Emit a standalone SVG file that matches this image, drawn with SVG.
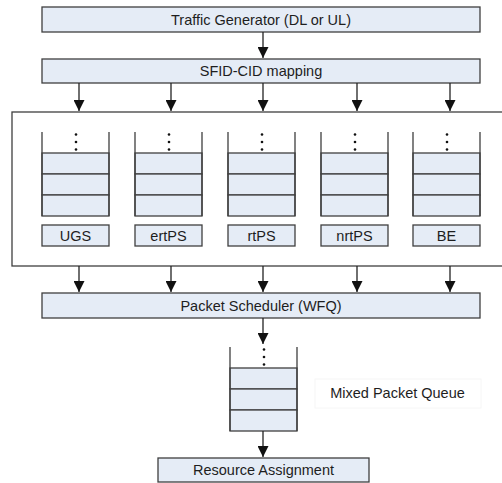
<svg xmlns="http://www.w3.org/2000/svg" width="502" height="483" viewBox="0 0 502 483">
<style>
.box{fill:#e5ecf6;stroke:#3f3f3f;stroke-width:1.3}
.wall{fill:none;stroke:#3f3f3f;stroke-width:1.3}
.t{font-family:"Liberation Sans",Arial,sans-serif;font-size:14.5px;fill:#1e1e1e;text-anchor:middle}
.c{stroke:#222;stroke-width:1.3;fill:none;marker-end:url(#ah)}
.dot{fill:#111}
</style>
<defs>
<marker id="ah" markerWidth="11" markerHeight="11" viewBox="0 0 10 10" refX="10" refY="5" orient="auto" markerUnits="userSpaceOnUse">
<path d="M0,0 L10,5 L0,10 z" fill="#111"/>
</marker>
<g id="queue">
<rect class="box" x="0" y="21" width="67" height="21"/>
<rect class="box" x="0" y="42" width="67" height="21"/>
<rect class="box" x="0" y="63" width="67" height="21"/>
<path class="wall" d="M0,0 V84 M67,0 V84"/>
<circle class="dot" cx="34" cy="2.5" r="1.3"/>
<circle class="dot" cx="34" cy="10" r="1.3"/>
<circle class="dot" cx="34" cy="17.5" r="1.3"/>
</g>
</defs>
<rect id="container" x="12" y="112" width="500" height="154" fill="#fff" stroke="#3f3f3f" stroke-width="1.3"/>
<g id="traffic"><rect class="box" x="42" y="7" width="438" height="25"/><text class="t" x="261" y="25">Traffic Generator (DL or UL)</text></g>
<g id="sfid"><rect class="box" x="42" y="59" width="438" height="24"/><text class="t" x="261" y="76">SFID-CID mapping</text></g>
<g id="q-ugs"><use href="#queue" x="42" y="132"/><rect class="box" x="42" y="225" width="67" height="21"/><text class="t" x="75.5" y="240.5">UGS</text></g>
<g id="q-ertps"><use href="#queue" x="135" y="132"/><rect class="box" x="135" y="225" width="67" height="21"/><text class="t" x="168.5" y="240.5">ertPS</text></g>
<g id="q-rtps"><use href="#queue" x="228" y="132"/><rect class="box" x="228" y="225" width="67" height="21"/><text class="t" x="261.5" y="240.5">rtPS</text></g>
<g id="q-nrtps"><use href="#queue" x="321" y="132"/><rect class="box" x="321" y="225" width="67" height="21"/><text class="t" x="354.5" y="240.5">nrtPS</text></g>
<g id="q-be"><use href="#queue" x="413" y="132"/><rect class="box" x="413" y="225" width="67" height="21"/><text class="t" x="446.5" y="240.5">BE</text></g>
<g id="scheduler"><rect class="box" x="42" y="293" width="438" height="25"/><text class="t" x="261" y="310.5">Packet Scheduler (WFQ)</text></g>
<g id="mixed"><use href="#queue" x="230" y="347"/></g>
<g id="mixed-label"><rect x="315" y="379" width="166" height="29" fill="#fff" stroke="#f6f6f6" stroke-width="1"/><text class="t" x="397.5" y="398">Mixed Packet Queue</text></g>
<g id="resource"><rect class="box" x="158" y="458" width="211" height="24"/><text class="t" x="263.5" y="475">Resource Assignment</text></g>
<g id="connectors">
<path class="c" d="M263,32 V58"/>
<path class="c" d="M79,83 V111"/>
<path class="c" d="M171,83 V111"/>
<path class="c" d="M263,83 V111"/>
<path class="c" d="M357,83 V111"/>
<path class="c" d="M450,83 V111"/>
<path class="c" d="M79,266 V292"/>
<path class="c" d="M171,266 V292"/>
<path class="c" d="M263,266 V292"/>
<path class="c" d="M357,266 V292"/>
<path class="c" d="M450,266 V292"/>
<path class="c" d="M263,318 V344"/>
<path class="c" d="M263,431 V457"/>
</g>
</svg>
